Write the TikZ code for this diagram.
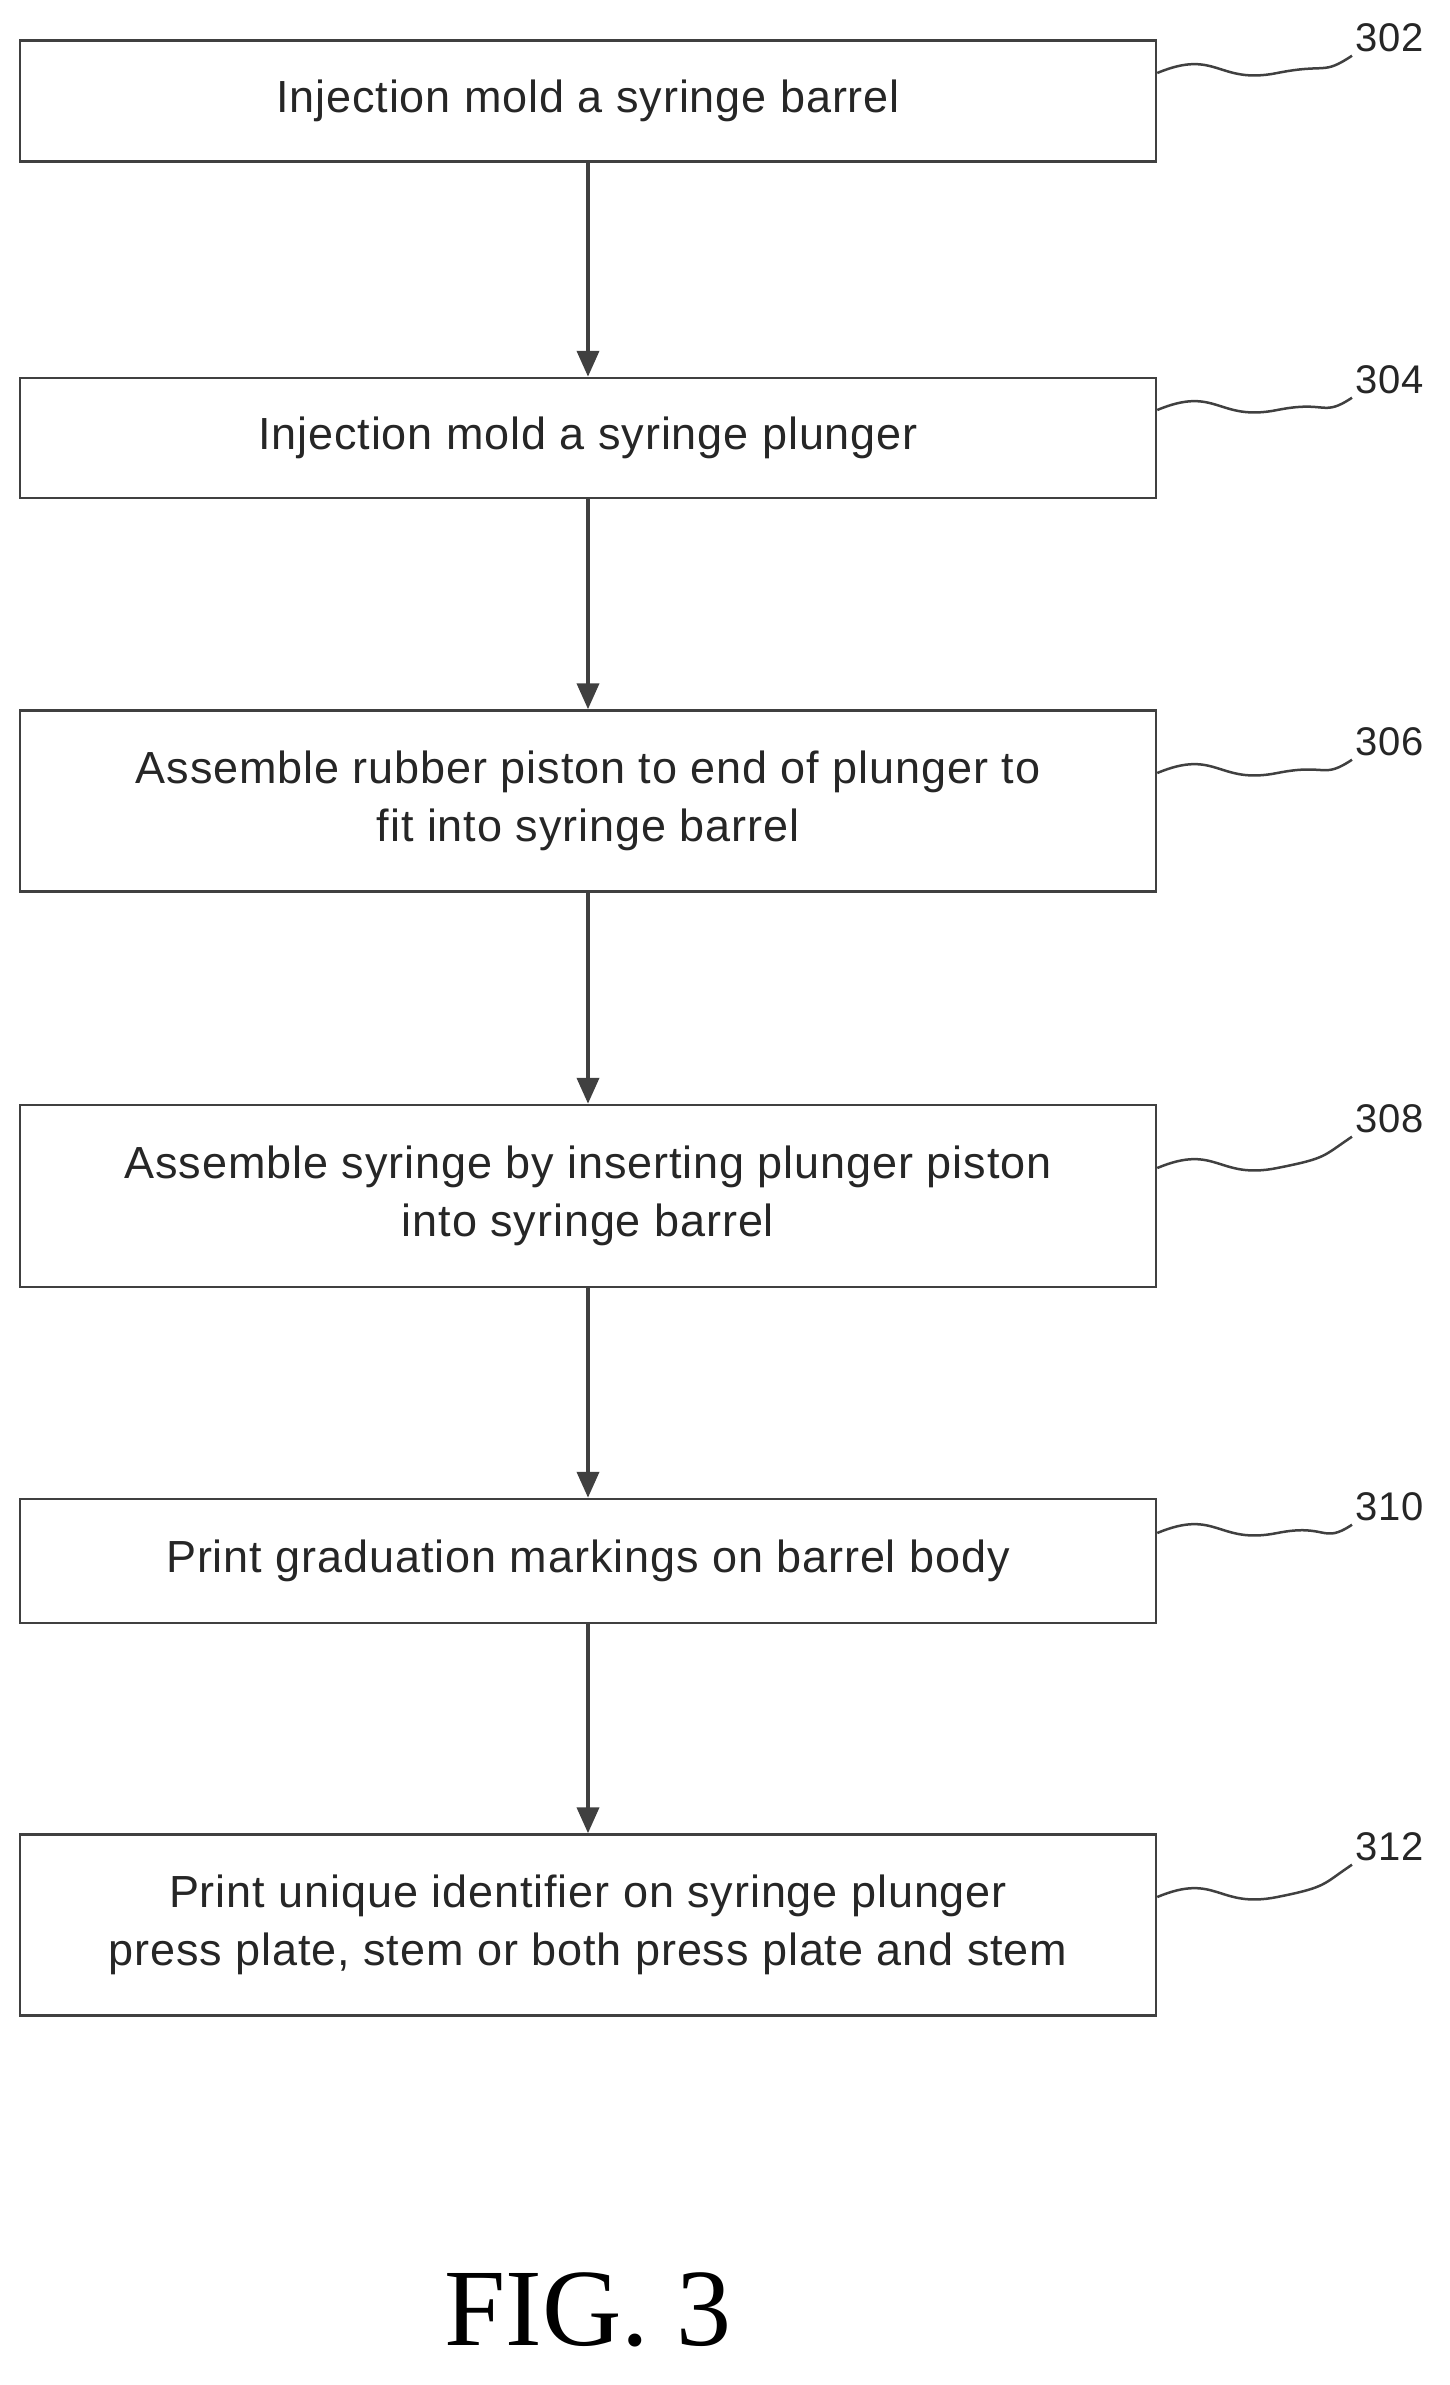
\documentclass[tikz,border=0pt]{standalone}
\usepackage{fontspec}
\setmainfont{Liberation Sans}[LetterSpace=2]
\newfontfamily\figfont{Liberation Serif}
\usetikzlibrary{arrows.meta}
\tikzset{
  stepbox/.style={draw=black!75, line width=2.5pt, minimum width=1136pt, align=center,
    font=\fontsize{45}{58}\selectfont, text=black!85},
  flow/.style={draw=black!75, line width=4pt, -{Triangle[length=26pt,width=22pt]}},
  lead/.style={draw=black!75, line width=2.5pt},
  ref/.style={font=\fontsize{40}{48}\selectfont, text=black!85, anchor=west}
}
\begin{document}
\begin{tikzpicture}[x=1pt,y=1pt]
\useasboundingbox (0,0) rectangle (1450,-2385);

% steps
\node[stepbox, minimum height=121pt] (s302) at (588,-101) {Injection mold a syringe barrel};
\node[stepbox, minimum height=120pt] (s304) at (588,-438) {Injection mold a syringe plunger};
\node[stepbox, minimum height=181pt] (s306) at (588,-801) {Assemble rubber piston to end of plunger to\\fit into syringe barrel};
\node[stepbox, minimum height=182pt] (s308) at (588,-1196) {Assemble syringe by inserting plunger piston\\into syringe barrel};
\node[stepbox, minimum height=124pt] (s310) at (588,-1561) {Print graduation markings on barrel body};
\node[stepbox, minimum height=181pt] (s312) at (588,-1925) {Print unique identifier on syringe plunger\\press plate, stem or both press plate and stem};

% arrows
\draw[flow] (s302) -- (s304);
\draw[flow] (s304) -- (s306);
\draw[flow] (s306) -- (s308);
\draw[flow] (s308) -- (s310);
\draw[flow] (s310) -- (s312);

% reference numerals
\foreach \n/\y in {302/-38, 304/-380, 306/-742, 308/-1119, 310/-1507, 312/-1847}{
  \node[ref] (r\n) at (1352,\y) {\n};
  \draw[lead] (s\n.east) ++(0,28) coordinate (c\n)
    .. controls ++(60,25) and ++(-60,-12) .. ++(120,0)
    .. controls ++(50,10) and ++(-30,-20) .. (r\n.south west);
}

\node[font=\figfont\fontsize{110}{120}\selectfont] (fig) at (588,-2310) {FIG. 3};
\end{tikzpicture}
\end{document}
